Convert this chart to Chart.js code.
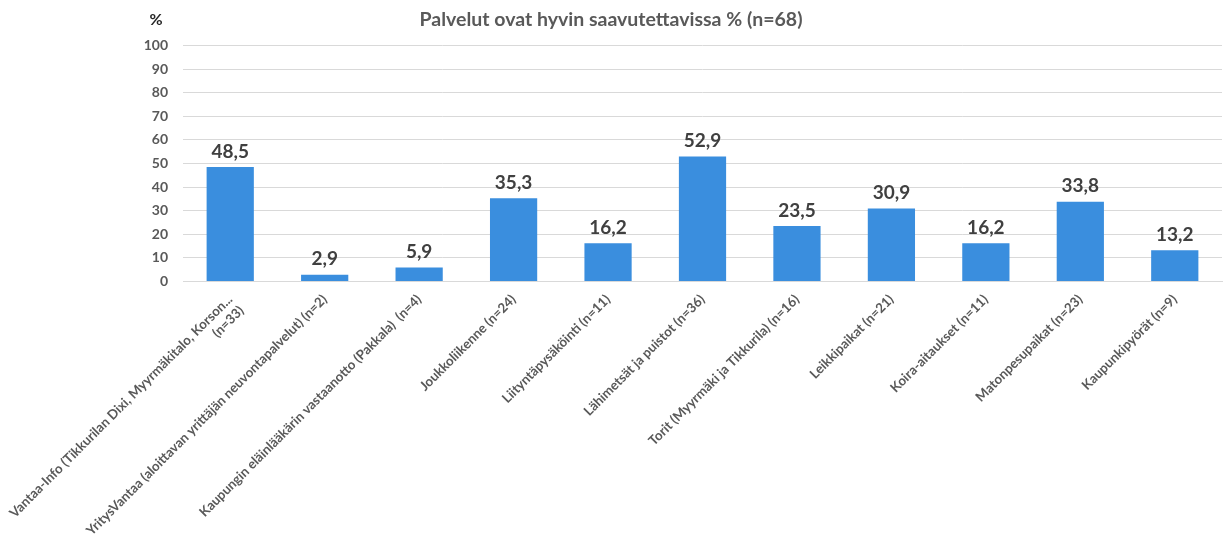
<!DOCTYPE html>
<html>
<head>
<meta charset="utf-8">
<script src="https://cdn.jsdelivr.net/npm/chart.js@4.4.1/dist/chart.umd.min.js"></script>
<style>
  html, body { margin: 0; padding: 0; background: #fff; }
  #wrap { width: 1225px; height: 552px; }
</style>
</head>
<body>
<div id="wrap"><canvas id="chart"></canvas></div>
<script>
// --- Data ---
const categories = [
  ['Vantaa-Info (Tikkurilan Dixi, Myyrmäkitalo, Korson...', '(n=33)'],
  'YritysVantaa (aloittavan yrittäjän neuvontapalvelut) (n=2)',
  'Kaupungin eläinlääkärin vastaanotto (Pakkala)  (n=4)',
  'Joukkoliikenne (n=24)',
  'Liityntäpysäköinti (n=11)',
  'Lähimetsät ja puistot (n=36)',
  'Torit (Myyrmäki ja Tikkurila) (n=16)',
  'Leikkipaikat (n=21)',
  'Koira-aitaukset (n=11)',
  'Matonpesupaikat (n=23)',
  'Kaupunkipyörät (n=9)'
];
const values = [48.5, 2.9, 5.9, 35.3, 16.2, 52.9, 23.5, 30.9, 16.2, 33.8, 13.2];
const yTicks = [0, 10, 20, 30, 40, 50, 60, 70, 80, 90, 100];
const titleText = 'Palvelut ovat hyvin saavutettavissa % (n=68)';
const unitText = '%';

const FONT = 'Lato, "Open Sans", sans-serif';
const GREY = '#595959';

// --- Value labels above bars ---
const valueLabels = {
  id: 'valueLabels',
  afterDatasetsDraw(chart) {
    const { ctx } = chart;
    const meta = chart.getDatasetMeta(0);
    ctx.save();
    ctx.font = `bold 19px ${FONT}`;
    ctx.fillStyle = '#404040';
    ctx.textAlign = 'center';
    ctx.textBaseline = 'bottom';
    meta.data.forEach((bar, i) => {
      ctx.fillText(values[i].toFixed(1).replace('.', ','), bar.x, bar.y - 6);
    });
    ctx.restore();
  }
};

// --- "%" unit above the y axis ---
const unitLabel = {
  id: 'unitLabel',
  afterDraw(chart) {
    const { ctx, chartArea } = chart;
    ctx.save();
    ctx.font = `bold 16px ${FONT}`;
    ctx.fillStyle = '#262626';
    ctx.textAlign = 'center';
    ctx.textBaseline = 'middle';
    ctx.fillText(unitText, chartArea.left - 27, 20);
    ctx.restore();
  }
};

new Chart(document.getElementById('chart'), {
  type: 'bar',
  data: {
    labels: categories,
    datasets: [{
      data: values,
      backgroundColor: '#3a8ede',
      categoryPercentage: 1,
      barPercentage: 0.5,
    }],
  },
  options: {
    responsive: true,
    maintainAspectRatio: false,
    animation: false,
    layout: { padding: { top: 0, right: 3, bottom: 0, left: 0 } },
    scales: {
      x: {
        grid: { display: false },
        border: { color: '#d9d9d9', width: 1 },
        ticks: {
          autoSkip: false,
          maxRotation: 45,
          minRotation: 45,
          color: GREY,
          font: { family: FONT, size: 13.3, weight: 'bold' },
          padding: 2,
        },
      },
      y: {
        min: 0,
        max: 100,
        afterBuildTicks(axis) { axis.ticks = yTicks.map(v => ({ value: v })); },
        afterFit(axis) { axis.width = Math.max(axis.width, 183); },
        grid: { color: '#d9d9d9', drawTicks: false },
        border: { display: false },
        ticks: {
          color: GREY,
          padding: 15,
          font: { family: FONT, size: 14, weight: 'bold' },
        },
      },
    },
    plugins: {
      legend: { display: false },
      tooltip: { enabled: false },
      title: {
        display: true,
        text: titleText,
        color: GREY,
        font: { family: FONT, size: 19.5, weight: 'bold' },
        padding: { top: 8, bottom: 14 },
      },
    },
  },
  plugins: [valueLabels, unitLabel],
});
</script>
</body>
</html>
